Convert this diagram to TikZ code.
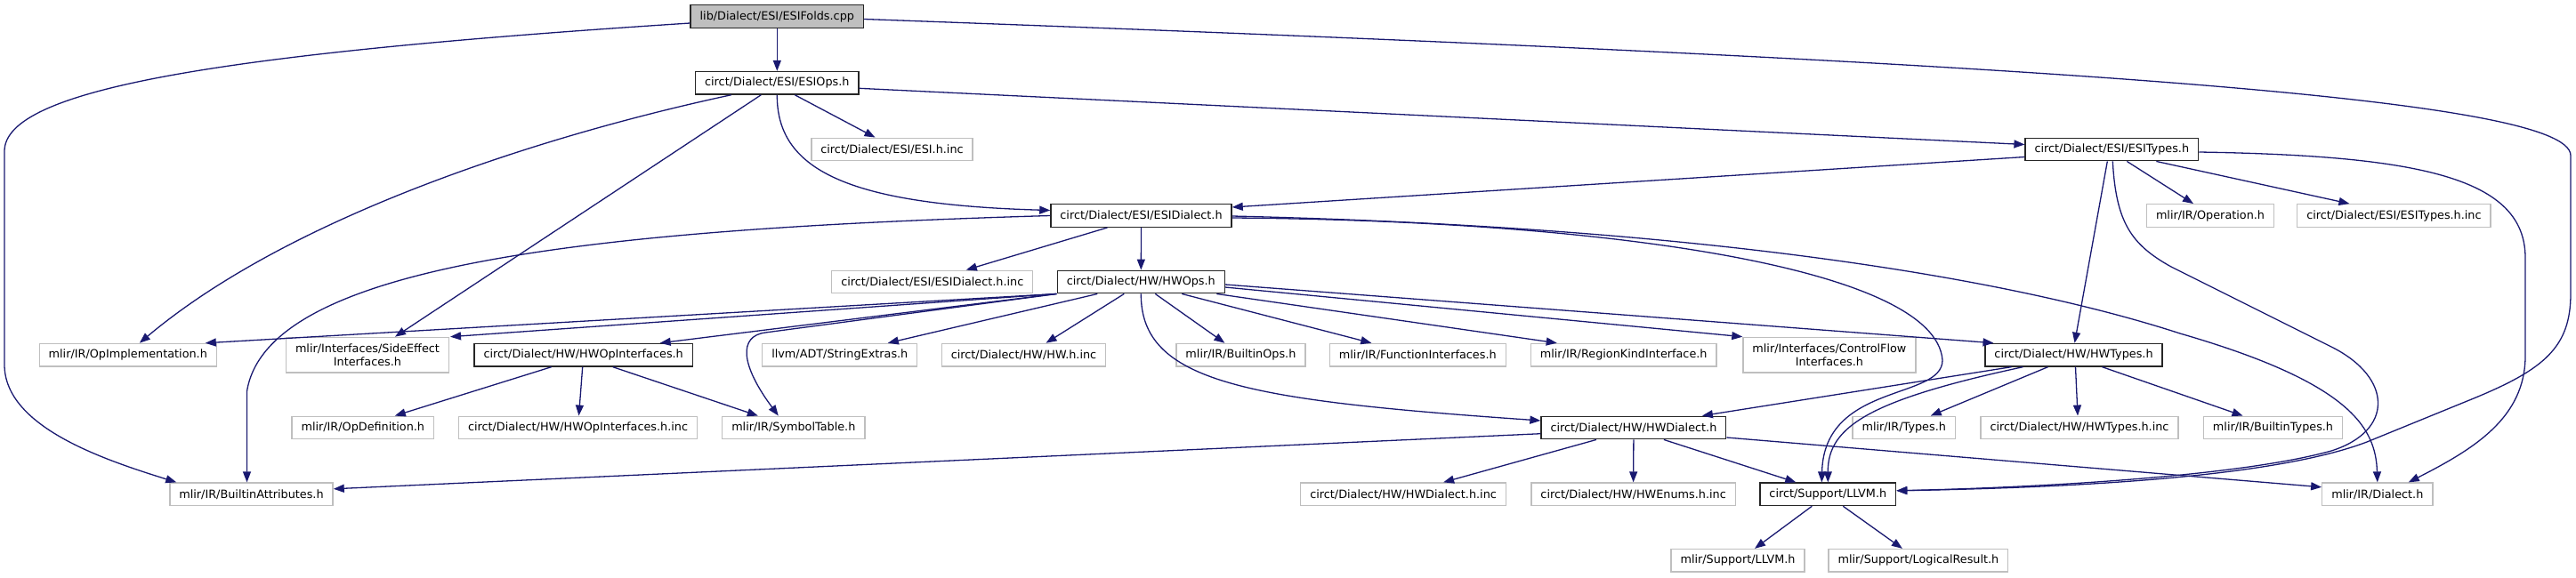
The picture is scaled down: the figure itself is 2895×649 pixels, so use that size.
\documentclass[tikz,border=0pt]{standalone}
\usepackage{fontspec}
\newfontfamily\graphfont{DejaVu Sans}
\usepackage{tikz}
\usetikzlibrary{arrows.meta}
\definecolor{depBlue}{HTML}{191970}
\definecolor{extGray}{HTML}{BFBFBF}
\definecolor{rootGray}{HTML}{BFBFBF}

\begin{document}
\begin{tikzpicture}[
  x=1pt, y=-1pt,
  docbox/.style={draw=black!85, line width=1.3pt, fill=white, minimum height=25.6pt, inner xsep=10.5pt, inner ysep=2pt, font={\graphfont\fontsize{12.8}{15}\selectfont}},
  extbox/.style={docbox, draw=extGray},
  rootbox/.style={docbox, fill=rootGray},
  twoline/.style={align=center, minimum height=39.7pt},
  dep/.style={-{Triangle[length=12pt, width=9pt]}, depBlue, line width=1.3pt}
]
  \useasboundingbox (0,0) rectangle (2895,649);

  \node[rootbox] (root) at (873.3,18.5) {lib/Dialect/ESI/ESIFolds.cpp};
  \node[docbox] (esiops) at (873.3,93.3) {circt/Dialect/ESI/ESIOps.h};
  \node[extbox] (esihinc) at (1002.5,168) {circt/Dialect/ESI/ESI.h.inc};
  \node[docbox] (esitypes) at (2373.3,168) {circt/Dialect/ESI/ESITypes.h};
  \node[docbox] (esidial) at (1282.5,242.5) {circt/Dialect/ESI/ESIDialect.h};
  \node[extbox] (operation) at (2484,242.5) {mlir/IR/Operation.h};
  \node[extbox] (esitypesinc) at (2690.4,242.5) {circt/Dialect/ESI/ESITypes.h.inc};
  \node[extbox] (esidialinc) at (1047.8,317) {circt/Dialect/ESI/ESIDialect.h.inc};
  \node[docbox] (hwops) at (1282.3,317) {circt/Dialect/HW/HWOps.h};
  \node[extbox] (opimpl) at (143.8,399.2) {mlir/IR/OpImplementation.h};
  \node[extbox, twoline] (sideeff) at (413,399.2) {mlir/Interfaces/SideEffect\\Interfaces.h};
  \node[docbox] (hwopif) at (655.7,399.2) {circt/Dialect/HW/HWOpInterfaces.h};
  \node[extbox] (strext) at (943.8,399.2) {llvm/ADT/StringExtras.h};
  \node[extbox] (hwinc) at (1150.5,399.2) {circt/Dialect/HW/HW.h.inc};
  \node[extbox] (bops) at (1394.4,399.2) {mlir/IR/BuiltinOps.h};
  \node[extbox] (funcif) at (1593.3,399.2) {mlir/IR/FunctionInterfaces.h};
  \node[extbox] (regkind) at (1824.7,399.2) {mlir/IR/RegionKindInterface.h};
  \node[extbox, twoline] (ctrlflow) at (2055.9,399.2) {mlir/Interfaces/ControlFlow\\Interfaces.h};
  \node[docbox] (hwtypes) at (2330.5,399.2) {circt/Dialect/HW/HWTypes.h};
  \node[extbox] (opdef) at (407.8,481) {mlir/IR/OpDefinition.h};
  \node[extbox] (hwopifinc) at (649.5,481) {circt/Dialect/HW/HWOpInterfaces.h.inc};
  \node[extbox] (symtab) at (891.8,481) {mlir/IR/SymbolTable.h};
  \node[docbox] (hwdial) at (1835.9,481) {circt/Dialect/HW/HWDialect.h};
  \node[extbox] (types) at (2139.7,481) {mlir/IR/Types.h};
  \node[extbox] (hwtypesinc) at (2337,481) {circt/Dialect/HW/HWTypes.h.inc};
  \node[extbox] (btypes) at (2554.5,481) {mlir/IR/BuiltinTypes.h};
  \node[extbox] (battr) at (282.5,555.8) {mlir/IR/BuiltinAttributes.h};
  \node[extbox] (hwdialinc) at (1577.1,555.8) {circt/Dialect/HW/HWDialect.h.inc};
  \node[extbox] (hwenums) at (1835.6,555.8) {circt/Dialect/HW/HWEnums.h.inc};
  \node[docbox] (llvm) at (2054.3,555.8) {circt/Support/LLVM.h};
  \node[extbox] (dialect) at (2671.8,555.8) {mlir/IR/Dialect.h};
  \node[extbox] (mlirllvm) at (1953,630.3) {mlir/Support/LLVM.h};
  \node[extbox] (logres) at (2155.9,630.3) {mlir/Support/LogicalResult.h};

  \foreach \a/\sa/\b/\sb in {root/0/esiops/0, esiops/20/esihinc/-19, esiops/-18/sideeff/31,
      esitypes/17/operation/-19, esitypes/50/esitypesinc/-50, esitypes/-5/hwtypes/1,
      esidial/-38/esidialinc/38, esidial/0/hwops/0,
      hwops/-95/opimpl/87, hwops/-95/sideeff/93, hwops/-95/hwopif/86,
      hwops/-49/strext/54, hwops/-19/hwinc/25, hwops/16/bops/-18, hwops/46/funcif/-52, hwops/85/regkind/-75,
      hwopif/-36/opdef/36, hwopif/-1/hwopifinc/1, hwopif/33/symtab/-40,
      hwdial/-42/hwdialinc/45, hwdial/0/hwenums/0, hwdial/34/llvm/-36,
      hwtypes/-70/hwdial/77, hwtypes/-29/types/30, hwtypes/2/hwtypesinc/-2, hwtypes/32/btypes/-34,
      llvm/-18/mlirllvm/19, llvm/17/logres/-18}
    \draw[dep] ([xshift=\sa pt]\a.south) -- ([xshift=\sb pt]\b.north);

  \draw[dep] ([yshift=-6pt]esiops.east) -- ([yshift=5.5pt]esitypes.west);
  \draw[dep] ([yshift=-8.5pt]esitypes.west) -- ([yshift=9.5pt]esidial.east);
  \draw[dep] ([yshift=-6pt]hwops.east) -- (ctrlflow.north west);
  \draw[dep] ([yshift=-3pt]hwops.east) -- ([xshift=-90pt]hwtypes.north);
  \draw[dep] ([yshift=-6.7pt]hwdial.west) -- ([yshift=6pt]battr.east);
  \draw[dep] ([yshift=-11pt]hwdial.east) -- ([yshift=8pt]dialect.west);

  \draw[dep] ([yshift=-7.5pt]root.west) .. controls (250,60) and (5,100) .. (5,170) -- (5,410)
    .. controls (5,480) and (117,517) .. ([xshift=8pt]battr.north west);
  \draw[dep] ([yshift=-3pt]root.east) .. controls (2300,70) and (2889,110) .. (2889,175) -- (2889,330)
    .. controls (2889,390) and (2860,415) .. (2780,448) -- (2660,497)
    .. controls (2560,535) and (2350,548) .. ([yshift=4pt]llvm.east);
  \draw[dep] ([xshift=-51.6pt]esiops.south) .. controls (620,150) and (330,240) .. ([xshift=13pt]opimpl.north);
  \draw[dep] (esiops.south) .. controls (873,190) and (950,230) .. ([yshift=6pt]esidial.west);
  \draw[dep] (esidial.west) .. controls (650,258) and (300,300) .. (277.5,440) -- ([xshift=-5pt]battr.north);
  \draw[dep] ([yshift=-0.5pt]esidial.east) .. controls (1900,255) and (2250,310) .. (2450,375)
    .. controls (2640,430) and (2670,480) .. (dialect.north);
  \draw[dep] ([yshift=-2.5pt]esidial.east) .. controls (1800,248) and (2175,300) .. (2183,405)
    .. controls (2183,450) and (2050,430) .. ([xshift=-7pt]llvm.north);
  \draw[dep] ([xshift=1pt]esitypes.south) .. controls (2378,250) and (2395,275) .. (2440,300) -- (2620,390)
    .. controls (2690,425) and (2690,485) .. (2620,507)
    .. controls (2520,535) and (2300,548) .. ([yshift=4pt]llvm.east);
  \draw[dep] ([yshift=-3pt]esitypes.east) .. controls (2720,175) and (2838,200) .. (2838,290) -- (2838,400)
    .. controls (2838,470) and (2780,505) .. ([xshift=35pt]dialect.north);
  \draw[dep] (hwops.south west) -- (860,374) .. controls (830,378) and (832,410) .. ([xshift=-17pt]symtab.north);
  \draw[dep] (hwops.south) .. controls (1282,430) and (1400,450) .. ([yshift=8pt]hwdial.west);
  \draw[dep] ([xshift=-57pt]hwtypes.south) .. controls (2100,450) and (2054,480) .. (llvm.north);
\end{tikzpicture}
\end{document}
